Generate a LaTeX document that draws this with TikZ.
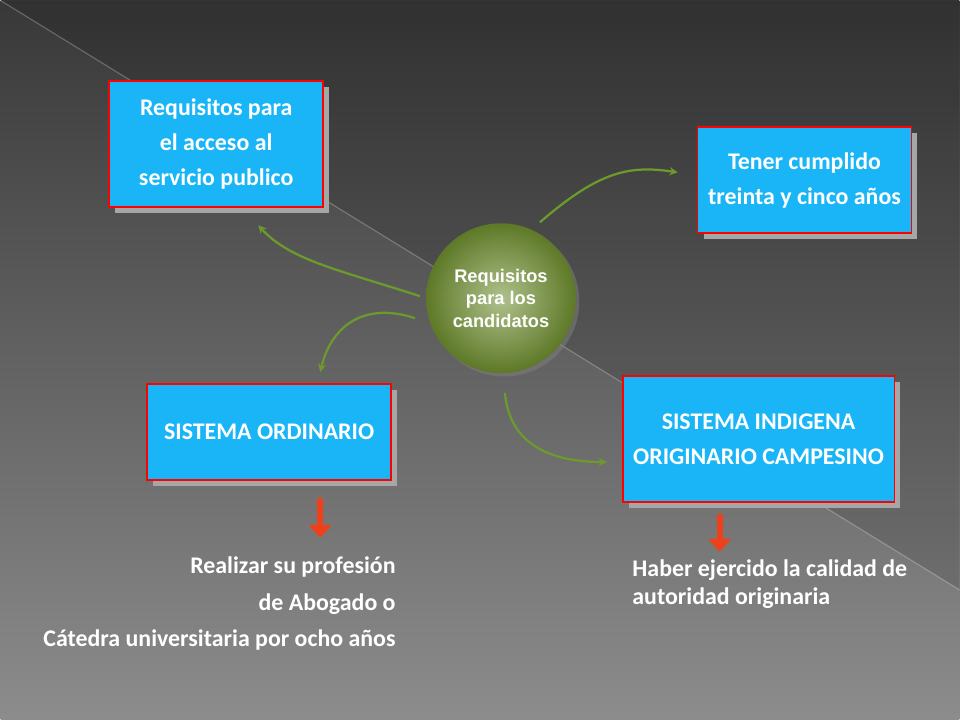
\documentclass[tikz,border=0pt]{standalone}
\usepackage{fontspec}
\setmainfont{Carlito}
\newfontfamily\arialfont{Liberation Sans}
\usetikzlibrary{positioning, shadows, arrows.meta}
\definecolor{boxcyan}{HTML}{19B5F7}
\definecolor{arrowgreen}{HTML}{6C9A2C}
\definecolor{arroworange}{HTML}{F0401A}
\definecolor{ballgreen}{HTML}{6E8E2E}
\begin{document}
\begin{tikzpicture}[x=0.025cm, y=-0.025cm, thick,
  req box/.style={draw=red, line width=1.2pt, fill=boxcyan, text=white, font=\bfseries\fontsize{17}{25}\selectfont, align=center, anchor=north west, inner sep=0pt,
    drop shadow={shadow xshift=0.15cm, shadow yshift=-0.15cm, fill=gray!70, opacity=1}},
  green arrow/.style={draw=arrowgreen, line width=1.6pt, ->, >=stealth},
  red arrow/.style={draw=arroworange, line width=4pt, -{Triangle[length=9pt,width=16pt]}},
  info text/.style={text=white, font=\bfseries\fontsize{17}{25}\selectfont, inner sep=0pt}]
% background
\shade[top color=black!78, bottom color=black!45] (0,0) rectangle (960,720);
\fill[black, opacity=0.12] (0,0) -- (960,0) -- (960,590) -- cycle;
\draw[white, opacity=0.25, line width=0.8pt] (0,0) -- (960,590);
\useasboundingbox (0,0) rectangle (960,720);
% boxes
\node[req box, minimum width=5.35cm, minimum height=3.15cm] (acceso) at (108,80) {Requisitos para\\el acceso al\\servicio publico};
\node[req box, minimum width=5.35cm, minimum height=2.65cm] (cumplido) at (697,126) {Tener cumplido\\treinta y cinco años};
\node[req box, minimum width=6.1cm, minimum height=2.4cm] (ordinario) at (146,383) {SISTEMA ORDINARIO};
\node[req box, minimum width=6.8cm, minimum height=3.15cm] (indigena) at (622,375) {SISTEMA INDIGENA\\ORIGINARIO CAMPESINO};
% center
\node[circle, minimum size=3.75cm, inner sep=0pt, inner color=ballgreen!55!white, outer color=ballgreen!85!black, text=white, align=center,
  font=\arialfont\bfseries\fontsize{13}{16}\selectfont, drop shadow={opacity=0.5}] (centro) at (501,298) {Requisitos\\para los\\candidatos};
% connectors
\coordinate (c1) at (420,296);
\coordinate (c2) at (415,318);
\coordinate (c3) at (540,222);
\coordinate (c4) at (505,393);
\draw[green arrow] (c1) .. controls (340,270) and (290,260) .. (258,225);
\draw[green arrow] (c2) .. controls (360,300) and (330,330) .. (320,372);
\draw[green arrow] (c3) .. controls (600,170) and (630,165) .. (678,172);
\draw[green arrow] (c4) .. controls (510,450) and (560,462) .. (607,462);
\draw[red arrow] (ordinario.south -| 320,0) ++(0,17) -- ++(0,40);
\draw[red arrow] (indigena.south -| 720,0) ++(0,11) -- ++(0,38);
% texts
\node[info text, anchor=base east] (t1) at (396,574) {Realizar su profesión};
\node[info text, anchor=base east] (t2) at (396,611) {de Abogado o};
\node[info text, anchor=base east] (t3) at (396,647) {Cátedra universitaria por ocho años};
\node[info text, anchor=base west] (t4) at (632,577) {Haber ejercido la calidad de};
\node[info text, anchor=base west] (t5) at (632,605) {autoridad originaria};
\end{tikzpicture}
\end{document}
